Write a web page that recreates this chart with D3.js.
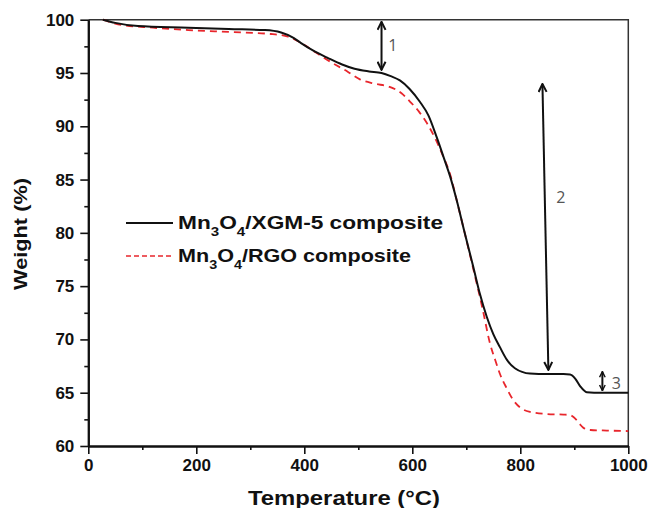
<!DOCTYPE html>
<html>
<head>
<meta charset="utf-8">
<script src="https://cdn.jsdelivr.net/npm/d3@7"></script>
<style>
  body { margin: 0; background: #fff; }
  svg { display: block; }
</style>
</head>
<body>
<svg id="chart"></svg>
<script>
// TGA curves, temperature in °C, weight in %
let xgmTemp = [27, 50, 92, 185, 260, 327, 357, 380, 394, 420, 444, 470, 493, 520, 543, 560, 577, 595, 614, 630, 645, 660, 670, 682, 697, 713, 725, 738, 750, 762, 775, 790, 818, 850, 880, 892, 902, 911, 923, 950, 1000]
let xgmWeight = [100, 99.7, 99.4, 99.25, 99.12, 99.03, 98.8, 98.3, 97.8, 97.0, 96.4, 95.8, 95.4, 95.15, 95.0, 94.7, 94.3, 93.5, 92.3, 91.0, 89.0, 86.8, 85.3, 83.1, 80.0, 76.8, 74.3, 72.1, 70.5, 69.3, 68.1, 67.3, 66.8, 66.75, 66.75, 66.7, 66.3, 65.6, 65.05, 65.0, 65.0]

let rgoTemp = [27, 55, 120, 185, 260, 338, 370, 395, 419, 450, 481, 503, 530, 558, 580, 596, 612, 627, 642, 657, 670, 682, 697, 713, 730, 744, 754, 762, 775, 787, 800, 818, 850, 880, 892, 899, 904, 911, 917, 930, 960, 1000]
let rgoWeight = [100, 99.57, 99.25, 99.03, 98.85, 98.66, 98.4, 97.8, 97.0, 96.0, 95.1, 94.4, 94.0, 93.7, 93.1, 92.3, 91.4, 90.3, 88.9, 87.2, 85.5, 83.1, 80.0, 76.6, 72.9, 69.6, 68.0, 66.8, 65.4, 64.3, 63.6, 63.2, 63.0, 62.95, 62.9, 62.7, 62.45, 62.0, 61.7, 61.5, 61.45, 61.4]

let xTicks = [0, 200, 400, 600, 800, 1000]
let xMinor = [100, 300, 500, 700, 900]
let yTicks = [60, 65, 70, 75, 80, 85, 90, 95, 100]
let yMinor = [62.5, 67.5, 72.5, 77.5, 82.5, 87.5, 92.5, 97.5]

// annotation arrows: [temp1, weight1, temp2, weight2], label [temp, weight, text]
let arrows = [
  [543, 99.8, 543, 95.3],
  [841, 93.97, 852, 67.14],
  [952, 66.98, 952, 65.2]
]
let arrowLabels = [
  [564, 97.6, '1'],
  [875, 83.3, '2'],
  [978, 65.9, '3']
]

let seriesNames = ['XGM-5', 'RGO']

let width = 649
let height = 508
let padLeft = 88.3, padRight = 628.3, padTop = 19.7, padBottom = 446

let svg = d3.select('#chart')
  .attr('width', width)
  .attr('height', height)

let xScale = d3.scaleLinear().domain([0, 1000]).range([padLeft, padRight])
let yScale = d3.scaleLinear().domain([60, 100]).range([padBottom, padTop])

let font = "'Liberation Sans', Arial, sans-serif"

// frame top + right
svg.append('path')
  .attr('d', 'M' + padLeft + ',' + padTop + 'H' + padRight + 'V' + padBottom)
  .attr('fill', 'none')
  .attr('stroke', '#333')
  .attr('stroke-width', 1.5)

let xAxis = d3.axisBottom(xScale).tickValues(xTicks).tickSize(8).tickSizeOuter(0).tickFormat(d3.format('d'))
let xAxisMinor = d3.axisBottom(xScale).tickValues(xMinor).tickSize(4).tickSizeOuter(0).tickFormat('')
let yAxis = d3.axisLeft(yScale).tickValues(yTicks).tickSize(8).tickSizeOuter(0)
let yAxisMinor = d3.axisLeft(yScale).tickValues(yMinor).tickSize(4).tickSizeOuter(0).tickFormat('')

let styleAxis = (g) => {
  g.select('.domain').attr('stroke', '#111').attr('stroke-width', 2)
  g.selectAll('.tick line').attr('stroke', '#111').attr('stroke-width', 1.6)
  g.selectAll('.tick text')
    .attr('fill', '#111')
    .style('font-family', font)
    .style('font-weight', 'bold')
    .style('font-size', '17px')
}

svg.append('g').attr('transform', 'translate(0,' + padBottom + ')').call(xAxisMinor).call(styleAxis)
svg.append('g').attr('transform', 'translate(0,' + padBottom + ')').call(xAxis).call(styleAxis)
  .selectAll('.tick text').attr('y', 13)
svg.append('g').attr('transform', 'translate(' + padLeft + ',0)').call(yAxisMinor).call(styleAxis)
svg.append('g').attr('transform', 'translate(' + padLeft + ',0)').call(yAxis).call(styleAxis)
  .selectAll('.tick text').attr('x', -14)

// curves
let line = d3.line()
  .x((d) => xScale(d[0]))
  .y((d) => yScale(d[1]))
  .curve(d3.curveMonotoneX)

let xgmData = xgmTemp.map((t, i) => [t, xgmWeight[i]])
let rgoData = rgoTemp.map((t, i) => [t, rgoWeight[i]])

svg.append('path')
  .datum(rgoData)
  .attr('d', line)
  .attr('fill', 'none')
  .attr('stroke', '#e8262c')
  .attr('stroke-width', 1.8)
  .attr('stroke-dasharray', '7,5')

svg.append('path')
  .datum(xgmData)
  .attr('d', line)
  .attr('fill', 'none')
  .attr('stroke', '#111')
  .attr('stroke-width', 2)

// arrows (big heads for 1 and 2, small for 3)
let defs = svg.append('defs')
let addHead = (id, size) => {
  defs.append('marker')
    .attr('id', id)
    .attr('viewBox', '0 0 10 10')
    .attr('refX', 9)
    .attr('refY', 5)
    .attr('markerWidth', size)
    .attr('markerHeight', size)
    .attr('markerUnits', 'userSpaceOnUse')
    .attr('orient', 'auto-start-reverse')
    .append('path')
    .attr('d', 'M1,1 L9,5 L1,9')
    .attr('fill', 'none')
    .attr('stroke', '#111')
    .attr('stroke-width', 2)
}
addHead('head', 10)
addHead('headSmall', 7)

svg.selectAll('.arrow')
  .data(arrows)
  .enter()
  .append('line')
  .attr('class', 'arrow')
  .attr('x1', (d) => xScale(d[0]))
  .attr('y1', (d) => yScale(d[1]))
  .attr('x2', (d) => xScale(d[2]))
  .attr('y2', (d) => yScale(d[3]))
  .attr('stroke', '#111')
  .attr('stroke-width', 2)
  .attr('marker-start', (d, i) => i == 2 ? 'url(#headSmall)' : 'url(#head)')
  .attr('marker-end', (d, i) => i == 2 ? 'url(#headSmall)' : 'url(#head)')

svg.selectAll('.alabel')
  .data(arrowLabels)
  .enter()
  .append('text')
  .attr('class', 'alabel')
  .attr('x', (d) => xScale(d[0]))
  .attr('y', (d) => yScale(d[1]))
  .attr('dy', '0.35em')
  .attr('text-anchor', 'middle')
  .attr('fill', '#555')
  .style('font-family', "'Open Sans', sans-serif")
  .style('font-size', '16px')
  .text((d) => d[2])

// legend
let legendY = [223, 256]
let legend = svg.append('g')
seriesNames.forEach((name, i) => {
  legend.append('line')
    .attr('x1', 126).attr('x2', 173)
    .attr('y1', legendY[i]).attr('y2', legendY[i])
    .attr('stroke', i == 0 ? '#111' : '#e8262c')
    .attr('stroke-width', i == 0 ? 2 : 1.5)
    .attr('stroke-dasharray', i == 0 ? null : '5,3')

  let t = legend.append('text')
    .attr('x', 178)
    .attr('y', legendY[i] + 6)
    .attr('fill', '#111')
    .style('font-family', font)
    .style('font-weight', 'bold')
    .style('font-size', '18px')
    .attr('textLength', i == 0 ? 265 : 233)
    .attr('lengthAdjust', 'spacingAndGlyphs')
  t.append('tspan').text('Mn')
  t.append('tspan').attr('dy', 7).style('font-size', '12px').text('3')
  t.append('tspan').attr('dy', -7).text('O')
  t.append('tspan').attr('dy', 7).style('font-size', '12px').text('4')
  t.append('tspan').attr('dy', -7).text('/' + name + ' composite')
})

// axis titles
svg.append('text')
  .attr('x', 248)
  .attr('y', 505)
  .attr('fill', '#111')
  .style('font-family', font)
  .style('font-weight', 'bold')
  .style('font-size', '19.5px')
  .attr('textLength', 192)
  .attr('lengthAdjust', 'spacingAndGlyphs')
  .text('Temperature (°C)')

svg.append('text')
  .attr('transform', 'translate(27,290) rotate(-90)')
  .attr('fill', '#111')
  .style('font-family', font)
  .style('font-weight', 'bold')
  .style('font-size', '19px')
  .attr('textLength', 112)
  .attr('lengthAdjust', 'spacingAndGlyphs')
  .text('Weight (%)')
</script>
</body>
</html>
